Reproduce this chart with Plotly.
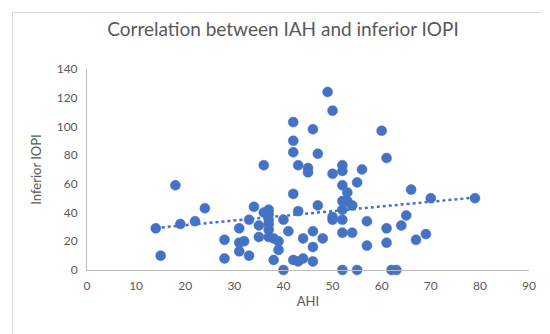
import numpy as np
import plotly.graph_objects as go

ahi = [14, 15, 18, 19, 22, 24, 28, 28, 31, 31, 31, 32, 33, 33, 34, 35, 35, 36, 36,
       37, 37, 37, 37, 37, 37, 38, 39, 39, 38, 40, 40, 41, 42, 42, 42, 42, 42, 43, 43,
       43, 44, 44, 45, 45, 46, 46, 46, 46, 47, 47, 48, 49, 50, 50, 50, 50, 52, 52, 52,
       52, 52, 52, 52, 52, 53, 53, 54, 54, 55, 55, 56, 57, 57, 60, 61, 61, 61, 62, 63,
       64, 65, 66, 67, 69, 70, 79]
iopi = [29, 10, 59, 32, 34, 43, 21, 8, 29, 19, 13, 20, 10, 35, 44, 31, 23, 73, 40,
        42, 39, 35, 32, 28, 23, 22, 20, 14, 7, 35, 0, 27, 103, 90, 82, 53, 7, 73, 41,
        6, 8, 22, 71, 68, 98, 27, 16, 6, 81, 45, 22, 124, 111, 67, 37, 35, 73, 69, 59,
        48, 42, 35, 26, 0, 54, 48, 45, 26, 61, 0, 70, 34, 17, 97, 78, 29, 19, 0, 0,
        31, 38, 56, 21, 25, 50, 50]

title = "Correlation between IAH and inferior IOPI"
x_title = "AHI"
y_title = "Inferior IOPI"

blue = "#4472C4"
grey_text = "#595959"

x = np.array(ahi, dtype=float)
y = np.array(iopi, dtype=float)
slope, intercept = np.polyfit(x, y, 1)
tx = np.array([x.min(), x.max()])
ty = slope * tx + intercept

fig = go.Figure()
fig.add_trace(go.Scatter(x=tx, y=ty, mode="lines",
                         line=dict(color=blue, width=2.5, dash="dot"),
                         hoverinfo="skip", showlegend=False))
fig.add_trace(go.Scatter(x=ahi, y=iopi, mode="markers",
                         marker=dict(color=blue, size=10, line=dict(color=blue, width=0.5)),
                         cliponaxis=False, showlegend=False))

L, R, T, B = 79, 29, 61, 72
W, H = 550, 334
pw, ph = W - L - R, H - T - B

def px2paper_x(px):
    return (px - L) / pw

def px2paper_y(py):
    return (H - B - py) / ph

fig.update_layout(
    width=W, height=H,
    margin=dict(l=L, r=R, t=T, b=B),
    paper_bgcolor="white", plot_bgcolor="white",
    font=dict(family="Lato, Carlito, Calibri, sans-serif", color=grey_text, size=12),
    title=dict(text=title, x=0.5, xanchor="center", y=1 - 21 / H, yanchor="middle",
               font=dict(size=19, color=grey_text)),
    xaxis=dict(range=[0, 90], dtick=10, showgrid=False, zeroline=False,
               showline=True, linecolor="#BFBFBF", linewidth=1,
               ticks="outside", ticklen=5, tickcolor="rgba(0,0,0,0)",
               tickfont=dict(size=12, color=grey_text),
               title=dict(text=x_title, font=dict(size=13, color=grey_text), standoff=4)),
    yaxis=dict(range=[0, 140], dtick=20, showgrid=False, zeroline=False,
               showline=True, linecolor="#BFBFBF", linewidth=1,
               ticks="outside", ticklen=6, tickcolor="rgba(0,0,0,0)",
               tickfont=dict(size=12, color=grey_text),
               title=dict(text=y_title, font=dict(size=13, color=grey_text), standoff=12)),
    shapes=[dict(type="rect", xref="paper", yref="paper",
                 x0=px2paper_x(4.5), x1=px2paper_x(545.5),
                 y0=px2paper_y(329.5), y1=px2paper_y(4.5),
                 line=dict(color="#D9D9D9", width=1), fillcolor="rgba(0,0,0,0)",
                 layer="below")],
)

fig.write_html("out.html")
